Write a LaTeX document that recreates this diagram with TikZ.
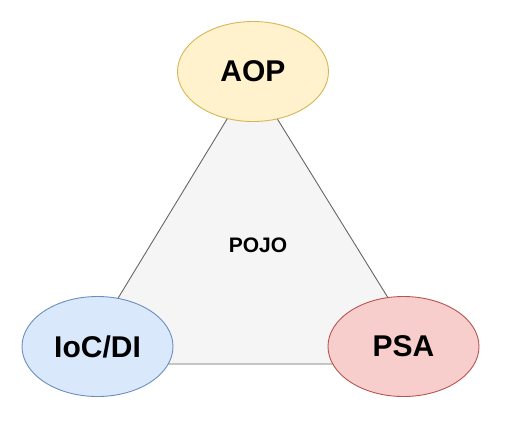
\documentclass[tikz,border=0pt]{standalone}
\usepackage{fontspec}
\setmainfont{Liberation Sans}
\usepackage{xcolor}
\usetikzlibrary{shapes.geometric}

\definecolor{aopfill}{HTML}{FFF2CC}
\definecolor{aopline}{HTML}{D6B656}
\definecolor{iocfill}{HTML}{DAE8FC}
\definecolor{iocline}{HTML}{6C8EBF}
\definecolor{psafill}{HTML}{F8CECC}
\definecolor{psaline}{HTML}{B85450}
\definecolor{trifill}{HTML}{F5F5F5}
\definecolor{triline}{HTML}{666666}

\begin{document}
\begin{tikzpicture}[x=1pt, y=-1pt, line width=0.9pt,
    blob/.style={ellipse, draw, inner sep=0pt, minimum width=151pt,
                 minimum height=100pt, font=\fontsize{30}{34}\selectfont\bfseries},
    core/.style={font=\fontsize{21}{24}\selectfont\bfseries}
  ]
    \useasboundingbox (0,0) rectangle (516,432);
    % triangle behind the three ellipses
    \coordinate (top) at (252,78);
    \coordinate (left) at (78,364);
    \coordinate (right) at (429,364);
    \draw[triline, fill=trifill] (top) -- (left) -- (right) -- cycle;
    \node[core] (pojo) at (258,245) {POJO};
    \node[blob, draw=aopline, fill=aopfill] (aop) at (253,71.5) {AOP};
    \node[blob, draw=iocline, fill=iocfill] (ioc) at (97.5,346.5) {IoC/DI};
    \node[blob, draw=psaline, fill=psafill] (psa) at (403.5,346.5) {PSA};
  \end{tikzpicture}
\end{document}
